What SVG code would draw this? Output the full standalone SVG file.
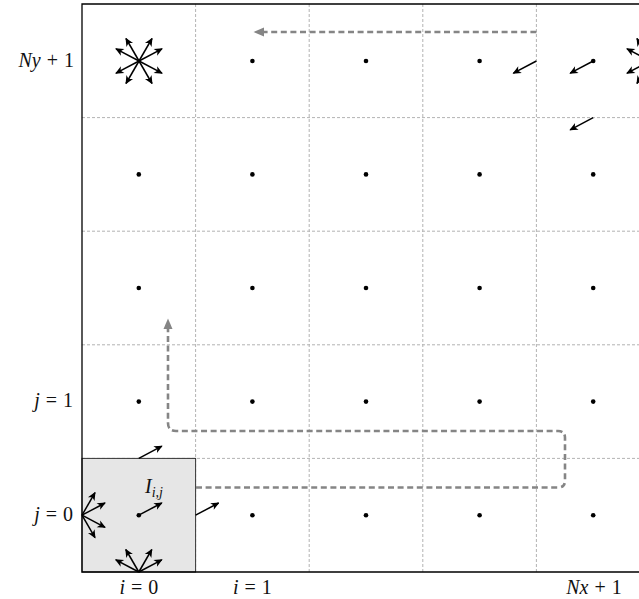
<svg xmlns="http://www.w3.org/2000/svg" width="639" height="599" viewBox="0 0 639 599">
<style>
.grid{stroke:#b3b3b3;stroke-width:1;stroke-dasharray:3 2;fill:none}
.frame{stroke:#000;stroke-width:1.3;fill:none}
.path{stroke:#858585;stroke-width:2.6;stroke-dasharray:6 3.6;fill:none}
.arr{stroke:#000;stroke-width:1.5;fill:none;marker-end:url(#ah)}
.dot{fill:#000}
text{font-family:"Liberation Serif","DejaVu Serif",serif;font-size:20px;fill:#111}
.it{font-style:italic}
</style>
<defs>
<marker id="ah" viewBox="-9 -5 10 10" refX="0" refY="0" markerWidth="10" markerHeight="10" markerUnits="userSpaceOnUse" orient="auto">
<path d="M1,0 L-7.5,-3.8 L-5.2,0 L-7.5,3.8 Z" fill="#000"/>
</marker>
<marker id="gh" viewBox="0 -6 12 12" refX="0" refY="0" markerWidth="12" markerHeight="12" markerUnits="userSpaceOnUse" orient="auto">
<path d="M0,-4.5 L10.5,0 L0,4.5 Z" fill="#858585"/>
</marker>
</defs>

<g id="grid">
<line class="grid" x1="195.6" y1="4" x2="195.6" y2="572"/>
<line class="grid" x1="309.2" y1="4" x2="309.2" y2="572"/>
<line class="grid" x1="422.8" y1="4" x2="422.8" y2="572"/>
<line class="grid" x1="536.4" y1="4" x2="536.4" y2="572"/>
<line class="grid" x1="82" y1="117.6" x2="650" y2="117.6"/>
<line class="grid" x1="82" y1="231.2" x2="650" y2="231.2"/>
<line class="grid" x1="82" y1="344.8" x2="650" y2="344.8"/>
<line class="grid" x1="82" y1="458.4" x2="650" y2="458.4"/>
</g>

<g id="cell00">
<rect x="82" y="458.4" width="113.6" height="113.6" fill="#e6e6e6" stroke="#333" stroke-width="1"/>
</g>

<g id="frame">
<path class="frame" d="M650,4 H82 V572 H650"/>
</g>

<g id="connectors">
<path class="path" d="M536.4,32 H264" marker-end="url(#gh)"/>
<path class="path" d="M196,487.5 H558 Q565,487.5 565,480.5 V438 Q565,431 558,431 H176 Q168,431 168,423 V329" marker-end="url(#gh)"/>
</g>

<g id="star-top-left">
<line class="arr" x1="139" y1="61" x2="162" y2="48.8"/>
<line class="arr" x1="139" y1="61" x2="152" y2="38.5"/>
<line class="arr" x1="139" y1="61" x2="126" y2="38.5"/>
<line class="arr" x1="139" y1="61" x2="116" y2="48.8"/>
<line class="arr" x1="139" y1="61" x2="116" y2="73.2"/>
<line class="arr" x1="139" y1="61" x2="126" y2="83.5"/>
<line class="arr" x1="139" y1="61" x2="152" y2="83.5"/>
<line class="arr" x1="139" y1="61" x2="162" y2="73.2"/>
</g>

<g id="star-top-right">
<line class="arr" x1="650" y1="61" x2="627" y2="48.8"/>
<line class="arr" x1="650" y1="61" x2="637" y2="38.5"/>
<line class="arr" x1="650" y1="61" x2="627" y2="73.2"/>
<line class="arr" x1="650" y1="61" x2="637" y2="83.5"/>
</g>

<g id="arrows-top-right">
<line class="arr" x1="536.4" y1="61" x2="513.4" y2="73.2"/>
<line class="arr" x1="593.2" y1="61" x2="570.2" y2="73.2"/>
<line class="arr" x1="593.2" y1="117.6" x2="570.2" y2="129.8"/>
</g>

<g id="arrows-cell00">
<line class="arr" x1="138.8" y1="515.2" x2="161.8" y2="503"/>
<line class="arr" x1="138.8" y1="458.4" x2="161.8" y2="446.2"/>
<line class="arr" x1="195.6" y1="515.2" x2="218.6" y2="503"/>
<line class="arr" x1="82" y1="515.2" x2="105" y2="503"/>
<line class="arr" x1="82" y1="515.2" x2="95" y2="492.7"/>
<line class="arr" x1="82" y1="515.2" x2="105" y2="527.4"/>
<line class="arr" x1="82" y1="515.2" x2="95" y2="537.7"/>
<line class="arr" x1="138.8" y1="572" x2="161.8" y2="559.8"/>
<line class="arr" x1="138.8" y1="572" x2="151.8" y2="549.5"/>
<line class="arr" x1="138.8" y1="572" x2="125.8" y2="549.5"/>
<line class="arr" x1="138.8" y1="572" x2="115.8" y2="559.8"/>
</g>

<g id="dots">
<circle class="dot" cx="252.4" cy="61" r="2.3"/>
<circle class="dot" cx="366" cy="61" r="2.3"/>
<circle class="dot" cx="479.6" cy="61" r="2.3"/>
<circle class="dot" cx="593.2" cy="61" r="2.3"/>
<circle class="dot" cx="138.8" cy="174.4" r="2.3"/>
<circle class="dot" cx="252.4" cy="174.4" r="2.3"/>
<circle class="dot" cx="366" cy="174.4" r="2.3"/>
<circle class="dot" cx="479.6" cy="174.4" r="2.3"/>
<circle class="dot" cx="593.2" cy="174.4" r="2.3"/>
<circle class="dot" cx="138.8" cy="288" r="2.3"/>
<circle class="dot" cx="252.4" cy="288" r="2.3"/>
<circle class="dot" cx="366" cy="288" r="2.3"/>
<circle class="dot" cx="479.6" cy="288" r="2.3"/>
<circle class="dot" cx="593.2" cy="288" r="2.3"/>
<circle class="dot" cx="138.8" cy="401.6" r="2.3"/>
<circle class="dot" cx="252.4" cy="401.6" r="2.3"/>
<circle class="dot" cx="366" cy="401.6" r="2.3"/>
<circle class="dot" cx="479.6" cy="401.6" r="2.3"/>
<circle class="dot" cx="593.2" cy="401.6" r="2.3"/>
<circle class="dot" cx="138.8" cy="515.2" r="2.3"/>
<circle class="dot" cx="252.4" cy="515.2" r="2.3"/>
<circle class="dot" cx="366" cy="515.2" r="2.3"/>
<circle class="dot" cx="479.6" cy="515.2" r="2.3"/>
<circle class="dot" cx="593.2" cy="515.2" r="2.3"/>
</g>

<g id="labels">
<text x="74" y="67" text-anchor="end"><tspan class="it">Ny</tspan><tspan dx="6">+</tspan><tspan dx="6">1</tspan></text>
<text x="73" y="407" text-anchor="end"><tspan class="it">j</tspan><tspan dx="6">=</tspan><tspan dx="6">1</tspan></text>
<text x="73" y="521" text-anchor="end"><tspan class="it">j</tspan><tspan dx="6">=</tspan><tspan dx="6">0</tspan></text>
<text x="138.8" y="594" text-anchor="middle"><tspan class="it">i</tspan><tspan dx="6">=</tspan><tspan dx="6">0</tspan></text>
<text x="252.4" y="594" text-anchor="middle"><tspan class="it">i</tspan><tspan dx="6">=</tspan><tspan dx="6">1</tspan></text>
<text x="594" y="594" text-anchor="middle"><tspan class="it">Nx</tspan><tspan dx="6">+</tspan><tspan dx="6">1</tspan></text>
<text x="145" y="493"><tspan class="it">I</tspan><tspan class="it" font-size="14" dy="4">i,j</tspan></text>
</g>
</svg>
